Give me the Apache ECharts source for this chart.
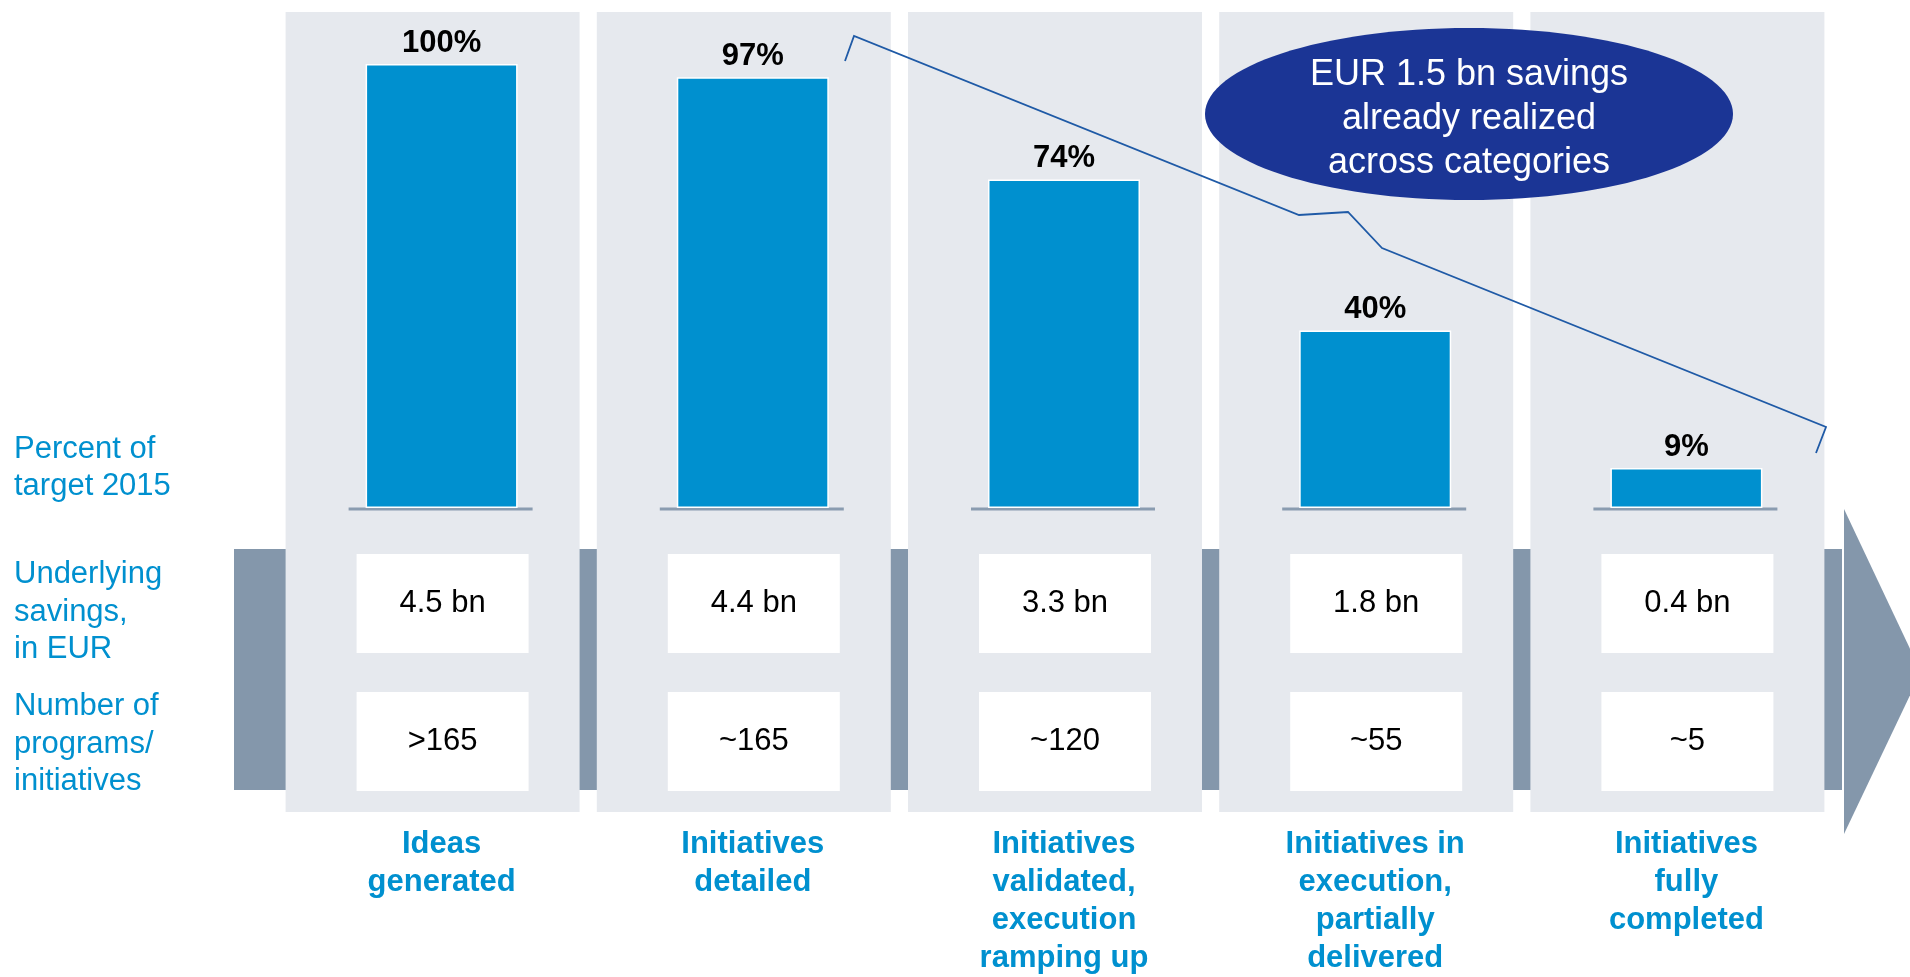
<!DOCTYPE html>
<html>
<head>
<meta charset="utf-8">
<script src="https://cdn.jsdelivr.net/npm/echarts@6/dist/echarts.min.js"></script>
<style>
html,body{margin:0;padding:0;background:#fff;}
#chart{width:1910px;height:977px;}
</style>
</head>
<body>
<div id="chart"></div>
<script>
var categories = ['Ideas\ngenerated', 'Initiatives\ndetailed', 'Initiatives\nvalidated,\nexecution\nramping up', 'Initiatives in\nexecution,\npartially\ndelivered', 'Initiatives\nfully\ncompleted'];
var percentOfTarget = [100, 97, 74, 40, 9];
var savings = ['4.5 bn', '4.4 bn', '3.3 bn', '1.8 bn', '0.4 bn'];
var programs = ['>165', '~165', '~120', '~55', '~5'];
var rowLabels = ['Percent of\ntarget 2015', 'Underlying\nsavings,\nin EUR', 'Number of\nprograms/\ninitiatives'];
var calloutText = 'EUR 1.5 bn savings\nalready realized\nacross categories';

var FONT = "'Liberation Sans', Arial, sans-serif";
var BLUE = '#0090cf';
var PANEL = '#e6e9ee';
var BAND = '#8497ab';

var chart = echarts.init(document.getElementById('chart'), null, {renderer: 'canvas'});

var customData = categories.map(function (c, i) { return i; });

function renderPanel(params, api) {
  var idx = params.dataIndex;
  var base = api.coord([idx, 0]);
  var cx = base[0];
  var by = base[1];
  return {
    type: 'group',
    children: [
      {type: 'rect', shape: {x: cx - 156, y: 12, width: 294, height: 800}, style: {fill: PANEL}},
      {type: 'line', shape: {x1: cx - 93, y1: by + 1, x2: cx + 91, y2: by + 1}, style: {stroke: '#8a9cb0', lineWidth: 3}},
      {type: 'rect', shape: {x: cx - 85, y: 554, width: 172, height: 99}, style: {fill: '#ffffff'},
        textContent: {style: {text: savings[idx], fontSize: 31, fontFamily: FONT, fill: '#000'}},
        textConfig: {position: 'inside'}},
      {type: 'rect', shape: {x: cx - 85, y: 692, width: 172, height: 99}, style: {fill: '#ffffff'},
        textContent: {style: {text: programs[idx], fontSize: 31, fontFamily: FONT, fill: '#000'}},
        textConfig: {position: 'inside'}}
    ]
  };
}

var rowCenters = [468, 612, 744];

var option = {
  animation: false,
  backgroundColor: '#ffffff',
  grid: {left: 286, right: 68, top: 64, bottom: 467, containLabel: false},
  xAxis: {
    type: 'category',
    data: categories,
    axisLine: {show: false},
    axisTick: {show: false},
    axisLabel: {
      interval: 0, margin: 317, color: BLUE, fontSize: 31, fontWeight: 'bold',
      fontFamily: FONT, lineHeight: 38, verticalAlign: 'top'
    }
  },
  yAxis: {type: 'value', min: 0, max: 100, show: false, splitLine: {show: false}},
  graphic: [
    {type: 'rect', z: 0, shape: {x: 234, y: 549, width: 1608, height: 241}, style: {fill: BAND}},
    {type: 'polygon', z: 0, shape: {points: [[1844, 509], [1921, 672], [1844, 834]]}, style: {fill: BAND}},
    {type: 'text', z: 5, left: 14, top: rowCenters[0] - 37, style: {text: rowLabels[0], fontSize: 31, lineHeight: 37, fontFamily: FONT, fill: BLUE}},
    {type: 'text', z: 5, left: 14, top: rowCenters[1] - 56, style: {text: rowLabels[1], fontSize: 31, lineHeight: 37.5, fontFamily: FONT, fill: BLUE}},
    {type: 'text', z: 5, left: 14, top: rowCenters[2] - 56, style: {text: rowLabels[2], fontSize: 31, lineHeight: 37.5, fontFamily: FONT, fill: BLUE}},
    {type: 'polyline', z: 10, shape: {points: [[845, 61], [854, 36], [1299, 215], [1348, 212], [1382, 248], [1826, 427], [1816, 453]]},
      style: {stroke: '#1f5aa6', lineWidth: 1.8, fill: null}},
    {type: 'ellipse', z: 10, shape: {cx: 1469, cy: 114, rx: 264, ry: 86}, style: {fill: '#1b3595'}},
    {type: 'text', z: 11, x: 1469, y: 119, style: {text: calloutText, fontSize: 36, lineHeight: 44, fontFamily: FONT, fill: '#ffffff', align: 'center', verticalAlign: 'middle'}}
  ],
  series: [
    {
      type: 'custom',
      z: 1,
      clip: false,
      data: customData,
      renderItem: renderPanel,
      silent: true
    },
    {
      type: 'bar',
      z: 3,
      data: percentOfTarget,
      barWidth: 152,
      itemStyle: {color: BLUE, borderColor: '#ffffff', borderWidth: 1.5},
      label: {
        show: true, position: 'top', distance: 5, formatter: '{c}%',
        fontSize: 31, fontWeight: 'bold', color: '#000', fontFamily: FONT
      }
    }
  ]
};
chart.setOption(option);
</script>
</body>
</html>
